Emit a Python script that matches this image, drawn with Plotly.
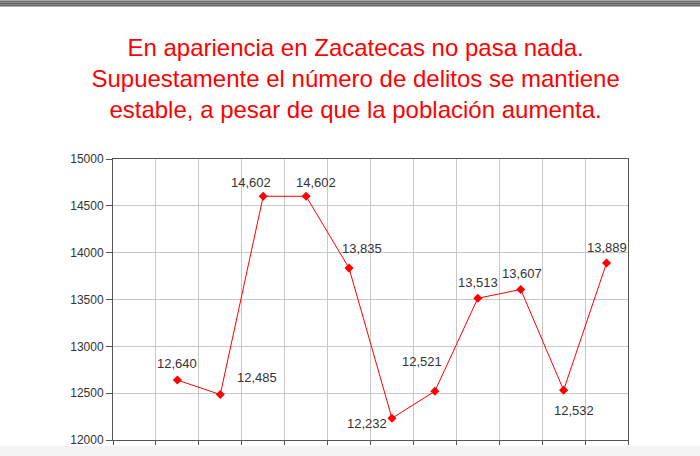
import plotly.graph_objects as go

# Chart data (first category slot is empty, as in the original)
positions = [1, 2, 3, 4, 5, 6, 7, 8, 9, 10, 11]
delitos = [12640, 12485, 14602, 14602, 13835, 12232, 12521, 13513, 13607, 12532, 13889]
y_ticks = [12000, 12500, 13000, 13500, 14000, 14500, 15000]

# label offsets in pixels (x, y up)
label_shift = [(0, 17), (37, 17), (-12, 14), (10, 14), (13, 20), (-25, -5),
               (-13, 30), (0, 16), (1, 16), (10, -20), (0, 16)]

title = ("En apariencia en Zacatecas no pasa nada.<br>"
         "Supuestamente el número de delitos se mantiene<br>"
         "estable, a pesar de que la población aumenta.")

fig = go.Figure()
fig.add_trace(go.Scatter(
    x=positions, y=delitos, mode="lines+markers",
    line=dict(color="#ff0000", width=1),
    marker=dict(symbol="diamond", size=7, color="#ff0000"),
    hoverinfo="skip",
))

for xv, yv, (dx, dy) in zip(positions, delitos, label_shift):
    fig.add_annotation(x=xv, y=yv, text=f"{yv:,}", showarrow=False,
                       xshift=dx, yshift=dy,
                       font=dict(family="Liberation Sans, Arial", size=13, color="#333333"))

# page decoration: striped bar at the top and grey band at the bottom
ph = 456 - 159 - 16
stripes = ["#a8a8a8", "#6e6e6e", "#8e8e8e", "#5e5e5e", "#8a8a8a", "#6a6a6a", "#b4b4b4"]
for i, c in enumerate(stripes):
    fig.add_shape(type="rect", xref="paper", yref="paper",
                  x0=-0.25, x1=1.2, y0=(ph + 159 - i - 1) / ph, y1=(ph + 159 - i + 2 * (i == 0)) / ph,
                  fillcolor=c, line_width=0, layer="below")
fig.add_shape(type="rect", xref="paper", yref="paper",
              x0=-0.25, x1=1.2, y0=-0.1, y1=-6 / ph,
              fillcolor="#f3f3f3", line_width=0, layer="below")

fig.update_layout(
    width=700, height=456,
    margin=dict(l=113, r=72, t=159, b=16),
    paper_bgcolor="white", plot_bgcolor="white",
    showlegend=False,
    title=dict(text=title, x=0.508, xanchor="center", y=0.878, yanchor="top",
               font=dict(family="Liberation Sans, Arial", size=24, color="#ff0000")),
    font=dict(family="Liberation Sans, Arial", size=12, color="#333333"),
)
fig.update_xaxes(range=[-0.5, 11.5], tick0=-0.5, dtick=1, showticklabels=False,
                 showgrid=True, gridcolor="#c8c8c8", gridwidth=1,
                 ticks="outside", ticklen=4, tickcolor="#555555",
                 showline=True, linecolor="#555555", linewidth=1, mirror=True,
                 zeroline=False, automargin=False)
fig.update_yaxes(range=[12000, 15000], tickvals=y_ticks, tickformat="d",
                 showgrid=True, gridcolor="#c8c8c8", gridwidth=1,
                 ticks="outside", ticklen=6, tickcolor="#555555",
                 showline=True, linecolor="#555555", linewidth=1, mirror=True,
                 zeroline=False, automargin=False,
                 tickfont=dict(size=12, color="#333333"))

# drop the default page margin so the figure sits at the window corner
fig.write_html("out.html", config={"displayModeBar": False},
               post_script="document.body.style.margin='0';")
